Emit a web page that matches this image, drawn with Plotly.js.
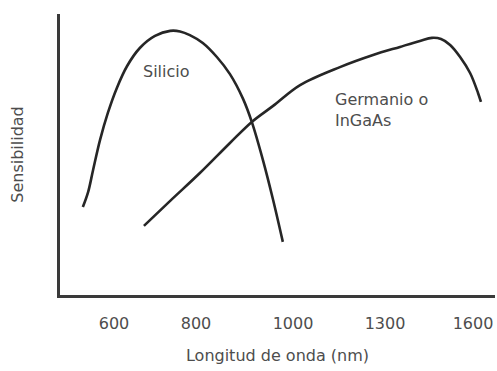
<!DOCTYPE html>
<html>
<head>
<meta charset="utf-8">
<script src="https://cdn.plot.ly/plotly-3.0.1.min.js"></script>
<style>html,body{margin:0;padding:0;background:#fff;}#chart{width:497px;height:371px;}</style>
</head>
<body>
<div id="chart"></div>
<script>
// Tick labels of the (non-uniform) wavelength axis, in nm
const tickNm = [600, 800, 1000, 1300, 1600];
const tickLabels = ['600', '800', '1000', '1300', '1600'];

// Silicio sensitivity curve (wavelength nm, relative sensitivity 0-100)
const siliconNm = [524, 537, 549, 566, 585, 607, 632, 663, 700, 737, 761, 785, 814, 843, 870, 897, 915, 938, 959, 979];
const siliconSens = [31.3, 36.7, 44.5, 55.2, 64.8, 73.7, 81.5, 87.9, 92.2, 94.0, 93.8, 92.5, 89.7, 84.7, 78.6, 69.8, 61.6, 48.0, 33.8, 18.9];

// Germanio o InGaAs sensitivity curve
const germaniumNm = [673, 737, 808, 870, 915, 959, 1023, 1153, 1261, 1351, 1419, 1460, 1491, 1522, 1556, 1590, 1617, 1627];
const germaniumSens = [24.6, 33.5, 43.4, 54.1, 61.6, 67.3, 74.7, 81.1, 85.4, 88.3, 90.4, 91.5, 91.1, 89.0, 84.7, 79.0, 71.9, 68.7];

// The drawn axis is not linear in nm: each tick sits at its own position
const tickPos = [0, 1, 2.183, 3.305, 4.378];

function toAxis(nm) {
  let i = 0;
  if (nm <= tickNm[0]) i = 0;
  else if (nm >= tickNm[tickNm.length - 1]) i = tickNm.length - 2;
  else { while (!(nm >= tickNm[i] && nm <= tickNm[i + 1])) i++; }
  const t = (nm - tickNm[i]) / (tickNm[i + 1] - tickNm[i]);
  return tickPos[i] + t * (tickPos[i + 1] - tickPos[i]);
}

const lineStyle = {color: '#262626', width: 2.6, shape: 'spline', smoothing: 1.0};
const txtFont = {family: 'DejaVu Sans, sans-serif', size: 16, color: '#4d4d4d'};

const traces = [
  {x: siliconNm.map(toAxis), y: siliconSens, mode: 'lines', line: lineStyle, hoverinfo: 'skip', name: 'Silicio'},
  {x: germaniumNm.map(toAxis), y: germaniumSens, mode: 'lines', line: lineStyle, hoverinfo: 'skip', name: 'Germanio o InGaAs'}
];

const layout = {
  width: 497, height: 371,
  margin: {l: 60, r: 2, t: 14, b: 76},
  paper_bgcolor: '#fff', plot_bgcolor: '#fff',
  showlegend: false,
  font: txtFont,
  xaxis: {
    range: [-0.6585, 4.646],
    tickvals: tickNm.map(toAxis), ticktext: tickLabels,
    showgrid: false, zeroline: false,
    showline: true, linecolor: '#3a3a3a', linewidth: 3,
    ticks: '', ticklabelstandoff: 12,
    tickfont: txtFont,
    title: {text: 'Longitud de onda (nm)', font: txtFont, standoff: 18}
  },
  yaxis: {
    range: [0, 100],
    showgrid: false, zeroline: false, showticklabels: false,
    showline: true, linecolor: '#3a3a3a', linewidth: 3,
    ticks: '',
    title: {text: 'Sensibilidad', font: txtFont, standoff: 30}
  },
  annotations: [
    {x: toAxis(729), y: 79.4, xref: 'x', yref: 'y', text: 'Silicio', showarrow: false, font: txtFont, xanchor: 'center', yanchor: 'middle'},
    {x: toAxis(1130), y: 65.8, xref: 'x', yref: 'y', text: 'Germanio o<br>InGaAs', showarrow: false, font: txtFont, xanchor: 'left', yanchor: 'middle', align: 'left'}
  ]
};

Plotly.newPlot('chart', traces, layout, {displayModeBar: false, staticPlot: true});
</script>
</body>
</html>
